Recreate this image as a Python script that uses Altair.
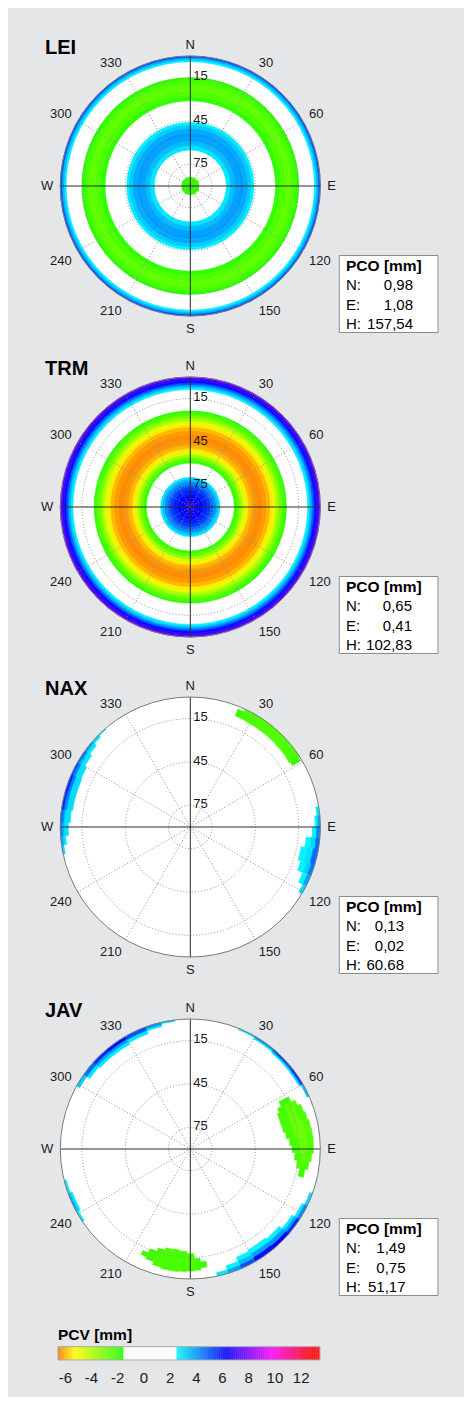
import altair as alt
import numpy as np
import pandas as pd

# ---------------- values ----------------
ANTENNAS = ["LEI", "TRM", "NAX", "JAV"]
PCO_N = ["0,98", "0,65", "0,13", "1,49"]
PCO_E = ["1,08", "0,41", "0,02", "0,75"]
PCO_H = ["157,54", "102,83", "60.68", "51,17"]

AZ_ANGLES = [0, 30, 60, 90, 120, 150, 180, 210, 240, 270, 300, 330]
AZ_LABELS = ["N", "30", "60", "E", "120", "150", "S", "210", "240", "W", "300", "330"]
ELEV_CIRCLES = [15, 45, 75]
CBAR_TICKS = [-6, -4, -2, 0, 2, 4, 6, 8, 10, 12]

# PCV colour map [mm]
PCV_STOPS = [-6.56, -5.3, -1.58, -1.57, 2.44, 2.45, 6.2, 9.7, 12.8, 13.44]
PCV_COLORS = ["#ff8000", "#ffff00", "#22ff00", "#ffffff", "#ffffff",
              "#00ffff", "#0000ff", "#ff00ff", "#ff0000", "#ff0000"]

# rotationally symmetric patterns: ring edges (zenith angle, deg) and PCV [mm]
LEI_EDGES = [0, 6.5, 25, 28, 31, 34, 37, 40, 42.5, 44.5, 59, 62, 66, 70, 73, 75.5, 86, 87.5, 89, 90]
LEI_PCV = [-1.9, 0, 2.8, 3.4, 3.8, 3.9, 3.7, 3.2, 2.7, 0, -1.8, -2.3, -2.6, -2.3, -1.8, 0, 2.7, 3.6, 5.0]

TRM_EDGES = [0, 3, 6, 9, 12, 14, 16, 18, 19.5, 21,
             30.5, 32.5, 34.5, 36.5, 38.5, 40.5, 43, 46, 50, 53, 55.5, 57.5, 59.5, 61.5, 63.5, 65.5, 67,
             81.3, 83, 84.5, 86, 87.5, 89, 90]
TRM_PCV = [6.6, 6.4, 6.1, 5.7, 5.3, 4.8, 4.1, 3.4, 2.8, 0,
           -1.9, -2.6, -3.6, -4.7, -5.5, -6.0, -6.3, -6.45, -6.3, -6.0, -5.5, -4.8, -3.9, -3.0, -2.3, -1.8,
           0, 2.7, 3.6, 4.8, 6.0, 6.9, 7.5]

# localized patches: (azimuth from, azimuth to, zenith from, zenith to, PCV [mm])
NAX_GREEN_NE = [
    (22, 25, 83.0, 88.0, -2.0), (25, 28, 82.8, 89.5, -2.2), (28, 36, 82.6, 90, -2.3),
    (36, 46, 82.5, 90, -2.35), (46, 54, 82.2, 90, -2.3), (54, 57, 81.8, 90, -2.2),
    (57, 59, 82.5, 89.0, -2.0),
]
NAX_BLUE_W = [
    (258, 262, 88.5, 90, 3.0),
    (262, 266, 86.5, 88.5, 2.8), (262, 266, 88.5, 90, 3.8),
    (266, 272, 84.5, 87.5, 2.8), (266, 272, 87.5, 89.0, 3.6), (266, 272, 89.0, 90, 4.5),
    (272, 278, 83.2, 87.5, 2.9), (272, 278, 87.5, 89.0, 4.0), (272, 278, 89.0, 90, 5.0),
    (278, 286, 82.3, 86.5, 3.0), (278, 286, 86.5, 88.5, 4.3), (278, 286, 88.5, 90, 5.6),
    (286, 294, 82.2, 86.5, 3.0), (286, 294, 86.5, 88.5, 4.4), (286, 294, 88.5, 90, 5.8),
    (294, 300, 82.8, 87.0, 2.9), (294, 300, 87.0, 89.0, 4.2), (294, 300, 89.0, 90, 5.4),
    (300, 306, 84.3, 87.5, 2.8), (300, 306, 87.5, 89.0, 3.8), (300, 306, 89.0, 90, 4.8),
    (306, 311, 86.0, 88.5, 2.8), (306, 311, 88.5, 90, 3.8),
    (311, 315, 88.0, 90, 3.0), (315, 319, 89.3, 90, 2.8),
]
NAX_BLUE_E = [
    (81, 85, 88.0, 90, 2.8),
    (85, 90, 86.5, 88.5, 2.7), (85, 90, 88.5, 90, 3.8),
    (90, 95, 84.5, 87.5, 2.6), (90, 95, 87.5, 90, 4.2),
    (95, 100, 80.5, 84.0, 2.6), (95, 100, 84.0, 87.5, 3.0), (95, 100, 87.5, 90, 4.6),
    (100, 107, 78.0, 82.5, 2.6), (100, 107, 82.5, 86.5, 2.9), (100, 107, 86.5, 90, 4.6),
    (107, 112, 80.0, 84.0, 2.6), (107, 112, 84.0, 87.5, 3.1), (107, 112, 87.5, 90, 4.4),
    (112, 117, 84.0, 87.5, 2.6), (112, 117, 87.5, 90, 3.8),
    (117, 121, 87.5, 90, 3.0),
]
JAV_BLUE_NW = [
    (299, 305, 87.5, 90, 3.2),
    (305, 312, 85.0, 87.5, 2.8), (305, 312, 87.5, 90, 4.6),
    (312, 320, 84.0, 86.0, 2.7), (312, 320, 86.0, 88.0, 3.8), (312, 320, 88.0, 90, 5.6),
    (320, 330, 83.8, 86.0, 2.7), (320, 330, 86.0, 88.0, 4.0), (320, 330, 88.0, 90, 6.0),
    (330, 340, 85.0, 87.5, 2.8), (330, 340, 87.5, 90, 5.0),
    (340, 347, 87.0, 88.5, 2.8), (340, 347, 88.5, 90, 4.0),
    (347, 353, 89.0, 90, 3.0),
]
JAV_BLUE_NE = [
    (22, 30, 89.0, 90, 2.8),
    (30, 40, 88.0, 89.0, 2.8), (30, 40, 89.0, 90, 4.0),
    (40, 52, 87.2, 88.6, 2.9), (40, 52, 88.6, 90, 5.0),
    (52, 60, 87.0, 88.5, 3.0), (52, 60, 88.5, 90, 5.5),
    (60, 66, 88.5, 90, 3.5),
]
JAV_GREEN_E = [
    (62, 65, 69.5, 77.0, -2.0),
    (65, 68, 66.5, 72.0, -2.2), (65, 68, 72.0, 80.0, -2.5),
    (68, 72, 65.0, 72.0, -2.2), (68, 72, 72.0, 78.0, -2.6), (68, 72, 78.0, 82.5, -2.3),
    (72, 76, 65.0, 72.0, -2.2), (72, 76, 72.0, 79.0, -2.7), (72, 76, 79.0, 83.5, -2.3),
    (76, 80, 65.5, 72.5, -2.2), (76, 80, 72.5, 80.0, -2.8), (76, 80, 80.0, 84.5, -2.4),
    (80, 84, 67.0, 73.5, -2.2), (80, 84, 73.5, 80.5, -2.8), (80, 84, 80.5, 85.0, -2.4),
    (84, 88, 69.0, 75.0, -2.2), (84, 88, 75.0, 81.0, -2.8), (84, 88, 81.0, 85.3, -2.4),
    (88, 92, 70.5, 76.0, -2.2), (88, 92, 76.0, 81.5, -2.7), (88, 92, 81.5, 85.2, -2.3),
    (92, 96, 72.5, 77.5, -2.2), (92, 96, 77.5, 84.0, -2.5),
    (96, 100, 74.5, 82.5, -2.3),
    (100, 104, 77.0, 80.5, -2.0),
]
JAV_BLUE_SE = [
    (110, 116, 88.0, 90, 3.0),
    (116, 123, 86.0, 88.0, 2.8), (116, 123, 88.0, 90, 4.2),
    (123, 131, 84.0, 86.0, 2.7), (123, 131, 86.0, 88.0, 3.8), (123, 131, 88.0, 90, 5.6),
    (131, 140, 81.5, 84.5, 2.7), (131, 140, 84.5, 87.5, 4.0), (131, 140, 87.5, 90, 6.3),
    (140, 150, 80.5, 84.0, 2.6), (140, 150, 84.0, 87.0, 3.8), (140, 150, 87.0, 90, 6.0),
    (150, 157, 81.5, 84.5, 2.6), (150, 157, 84.5, 87.5, 3.5), (150, 157, 87.5, 90, 5.0),
    (157, 163, 84.5, 87.5, 2.6), (157, 163, 87.5, 90, 3.8),
    (163, 168, 87.5, 90, 2.8),
]
JAV_BLUE_SW = [
    (236, 241, 88.5, 90, 2.7),
    (241, 250, 87.0, 88.5, 2.7), (241, 250, 88.5, 90, 3.6),
    (250, 256, 88.5, 90, 2.8),
]
JAV_GREEN_S = [
    (172, 175, 78.5, 82.5, -2.0), (175, 178, 76.0, 84.0, -2.1), (178, 182, 72.5, 84.5, -2.2),
    (182, 186, 71.0, 85.0, -2.2), (186, 190, 70.3, 85.2, -2.2), (190, 194, 70.5, 85.0, -2.2),
    (194, 198, 72.0, 84.2, -2.2), (198, 202, 74.5, 82.0, -2.1), (202, 205, 77.5, 80.5, -2.0),
]

# ---------------- layout / style (pixels) ----------------
FONT = "Liberation Sans"
BG = "#e5e6e8"
TXT = "#1a1a1a"
W = 456
PANEL_H = [321, 320, 322, 322]
CB_H = 104
CX_PX, CY_PX, R_PX = 182.3, 178.0, 130.0
K = R_PX / 90.0                       # pixels per zenith degree
XDOM = [-CX_PX / K, (W - CX_PX) / K]
LABEL_R_PX = 137.0
TITLE_POS = (-145.3, 138.4)
BOX = (149.0, 247.7, -69.5, -146.5)
BOX_TEXT_X = 155.7
BOX_ROWS_Y = [-79.7, -99.3, -118.7, -138.0]
VAL_RIGHT = [222.7, 221.7, 213.7, 215.2]

CB_LO, CB_HI = PCV_STOPS[0], PCV_STOPS[-1]
CB_X0_PX = 50.0
CB_PPU = 262.0 / (CB_HI - CB_LO)

PCV_SCALE = alt.Scale(domain=PCV_STOPS, range=PCV_COLORS, interpolate="rgb", clamp=True)
THETA_SCALE = alt.Scale(domain=[0, 360], range=[0, 2 * np.pi])
RADIUS_SCALE = alt.Scale(type="linear", domain=[0, 90], range=[0, R_PX], zero=True)


def rings_df(edges, pcv):
    return pd.DataFrame({"t0": 0.0, "t1": 360.0, "z0": edges[:-1], "z1": edges[1:],
                         "pcv": pcv, "cx": 0.0, "cy": 0.0})


def patches_df(*patches):
    rows = [r for p in patches for r in p]
    df = pd.DataFrame(rows, columns=["t0", "t1", "z0", "z1", "pcv"])
    df["cx"] = 0.0
    df["cy"] = 0.0
    return df


CELLS = [
    rings_df(LEI_EDGES, LEI_PCV),
    rings_df(TRM_EDGES, TRM_PCV),
    patches_df(NAX_GREEN_NE, NAX_BLUE_W, NAX_BLUE_E),
    patches_df(JAV_BLUE_NW, JAV_BLUE_NE, JAV_GREEN_E, JAV_BLUE_SE, JAV_BLUE_SW, JAV_GREEN_S),
]


def polar_panel(i, h):
    ys_dom = [-(h - CY_PX) / K, CY_PX / K]
    xs = alt.Scale(domain=XDOM, nice=False, zero=False)
    ys = alt.Scale(domain=ys_dom, nice=False, zero=False)

    def X(f):
        return alt.X(f"{f}:Q", scale=xs, axis=None)

    def Y(f):
        return alt.Y(f"{f}:Q", scale=ys, axis=None)

    def arc_enc():
        return dict(x=X("cx"), y=Y("cy"),
                    theta=alt.Theta("t0:Q", scale=THETA_SCALE, stack=None),
                    theta2=alt.Theta2("t1:Q"),
                    radius=alt.Radius("z1:Q", scale=RADIUS_SCALE),
                    radius2=alt.Radius2("z0:Q"))

    full = pd.DataFrame({"t0": [0.0], "t1": [360.0], "z0": [0.0], "z1": [90.0], "cx": [0.0], "cy": [0.0]})
    disk = alt.Chart(full).mark_arc(fill="white", strokeWidth=0).encode(**arc_enc())

    cells = alt.Chart(CELLS[i]).mark_arc(strokeWidth=0.6).encode(
        color=alt.Color("pcv:Q", scale=PCV_SCALE, legend=None),
        stroke=alt.Stroke("pcv:Q", scale=PCV_SCALE, legend=None),
        **arc_enc())

    circ = pd.DataFrame({"t0": 0.0, "t1": 360.0, "z0": 0.0,
                         "z1": [90.0 - e for e in ELEV_CIRCLES], "cx": 0.0, "cy": 0.0})
    grid_c = alt.Chart(circ).mark_arc(fillOpacity=0, stroke="#8f8f8f", strokeWidth=1,
                                      strokeDash=[1, 2]).encode(**arc_enc())

    spoke_az = [a for a in AZ_ANGLES if a % 90 != 0]
    spokes = pd.DataFrame({"x": 0.0, "y": 0.0,
                           "x2": [90 * np.sin(np.radians(a)) for a in spoke_az],
                           "y2": [90 * np.cos(np.radians(a)) for a in spoke_az]})
    grid_s = alt.Chart(spokes).mark_rule(color="#8f8f8f", strokeWidth=1, strokeDash=[1, 2]).encode(
        x=X("x"), y=Y("y"), x2="x2:Q", y2="y2:Q")

    axes = pd.DataFrame({"x": [-90.0, 0.0], "y": [0.0, -90.0], "x2": [90.0, 0.0], "y2": [0.0, 90.0]})
    axes_l = alt.Chart(axes).mark_rule(color="#2a2a2a", strokeWidth=1).encode(
        x=X("x"), y=Y("y"), x2="x2:Q", y2="y2:Q")

    outline = alt.Chart(full).mark_arc(fillOpacity=0, stroke="#7a7a7a", strokeWidth=1).encode(**arc_enc())

    layers = [disk, cells, grid_c, grid_s, axes_l, outline]

    # elevation labels next to the north axis
    el_df = pd.DataFrame({"x": 0.0, "y": [90.0 - e for e in ELEV_CIRCLES], "label": [str(e) for e in ELEV_CIRCLES]})
    layers.append(alt.Chart(el_df).mark_text(font=FONT, fontSize=13, align="left", baseline="middle",
                                             dx=3, dy=-1.5, color=TXT).encode(x=X("x"), y=Y("y"), text="label:N"))

    # azimuth labels
    rA = LABEL_R_PX / K
    groups = {}
    for a, lab in zip(AZ_ANGLES, AZ_LABELS):
        sx, sy = np.sin(np.radians(a)), np.cos(np.radians(a))
        align = "center" if abs(sx) < 0.01 else ("left" if sx > 0 else "right")
        base = "middle" if abs(sy) < 0.01 else ("alphabetic" if sy > 0 else "top")
        groups.setdefault((align, base), []).append((rA * sx, rA * sy, lab))
    for (align, base), rows in groups.items():
        gdf = pd.DataFrame(rows, columns=["x", "y", "label"])
        layers.append(alt.Chart(gdf).mark_text(font=FONT, fontSize=13, align=align, baseline=base,
                                               color=TXT).encode(x=X("x"), y=Y("y"), text="label:N"))

    # antenna name
    tdf = pd.DataFrame({"x": [TITLE_POS[0] / K], "y": [TITLE_POS[1] / K], "label": [ANTENNAS[i]]})
    layers.append(alt.Chart(tdf).mark_text(font=FONT, fontSize=20, fontWeight="bold", align="left",
                                           baseline="middle", color="#000000").encode(
        x=X("x"), y=Y("y"), text="label:N"))

    # PCO box
    bdf = pd.DataFrame({"x": [BOX[0] / K], "x2": [BOX[1] / K], "y": [BOX[2] / K], "y2": [BOX[3] / K]})
    layers.append(alt.Chart(bdf).mark_rect(fill="white", stroke="#8c8c8c", strokeWidth=1).encode(
        x=X("x"), x2="x2:Q", y=Y("y"), y2="y2:Q"))
    hdf = pd.DataFrame({"x": [BOX_TEXT_X / K], "y": [BOX_ROWS_Y[0] / K], "label": ["PCO [mm]"]})
    layers.append(alt.Chart(hdf).mark_text(font=FONT, fontSize=15.5, fontWeight="bold", align="left",
                                           baseline="middle", color="#000000").encode(
        x=X("x"), y=Y("y"), text="label:N"))
    ldf = pd.DataFrame({"x": BOX_TEXT_X / K, "y": [v / K for v in BOX_ROWS_Y[1:]], "label": ["N:", "E:", "H:"]})
    layers.append(alt.Chart(ldf).mark_text(font=FONT, fontSize=15, align="left", baseline="middle",
                                           color="#000000").encode(x=X("x"), y=Y("y"), text="label:N"))
    vdf = pd.DataFrame({"x": VAL_RIGHT[i] / K, "y": [v / K for v in BOX_ROWS_Y[1:]],
                        "label": [PCO_N[i], PCO_E[i], PCO_H[i]]})
    layers.append(alt.Chart(vdf).mark_text(font=FONT, fontSize=15, align="right", baseline="middle",
                                           color="#000000").encode(x=X("x"), y=Y("y"), text="label:N"))

    return alt.layer(*layers).properties(width=W, height=h)


def colorbar_panel():
    xs = alt.Scale(domain=[CB_LO - CB_X0_PX / CB_PPU, CB_LO + (W - CB_X0_PX) / CB_PPU], nice=False, zero=False)
    bar = alt.Chart(alt.sequence(CB_LO, CB_HI, 0.05, as_="v")).transform_calculate(
        v2=f"min(datum.v + 0.06, {CB_HI})").mark_rect().encode(
        x=alt.X("v:Q", scale=xs, axis=None), x2="v2:Q",
        y=alt.value(53.7), y2=alt.value(67.0),
        color=alt.Color("v:Q", scale=PCV_SCALE, legend=None))
    frame = alt.Chart(pd.DataFrame({"lo": [CB_LO], "hi": [CB_HI]})).mark_rect(
        fillOpacity=0, stroke="#a8a8a8", strokeWidth=1).encode(
        x=alt.X("lo:Q", scale=xs, axis=None), x2="hi:Q", y=alt.value(53.7), y2=alt.value(67.0))
    title = alt.Chart(pd.DataFrame({"x": [CB_LO], "label": ["PCV [mm]"]})).mark_text(
        font=FONT, fontSize=15.5, fontWeight="bold", align="left", baseline="middle", color="#000000").encode(
        x=alt.X("x:Q", scale=xs, axis=None), y=alt.value(42.3), text="label:N")
    ticks = alt.Chart(pd.DataFrame({"x": CBAR_TICKS, "label": [str(t) for t in CBAR_TICKS]})).mark_text(
        font=FONT, fontSize=15, align="center", baseline="middle", color=TXT).encode(
        x=alt.X("x:Q", scale=xs, axis=None), y=alt.value(84.5), text="label:N")
    return alt.layer(bar, frame, title, ticks).properties(width=W, height=CB_H)


panels = [polar_panel(i, PANEL_H[i]) for i in range(4)] + [colorbar_panel()]

chart = alt.vconcat(*panels, spacing=0, bounds="flush").resolve_scale(
    x="independent", y="independent", color="independent", stroke="independent",
    theta="independent", radius="independent"
).properties(padding=0, background=BG).configure_view(stroke=None)

chart.save("out.html", embed_options={"renderer": "svg", "actions": False})
